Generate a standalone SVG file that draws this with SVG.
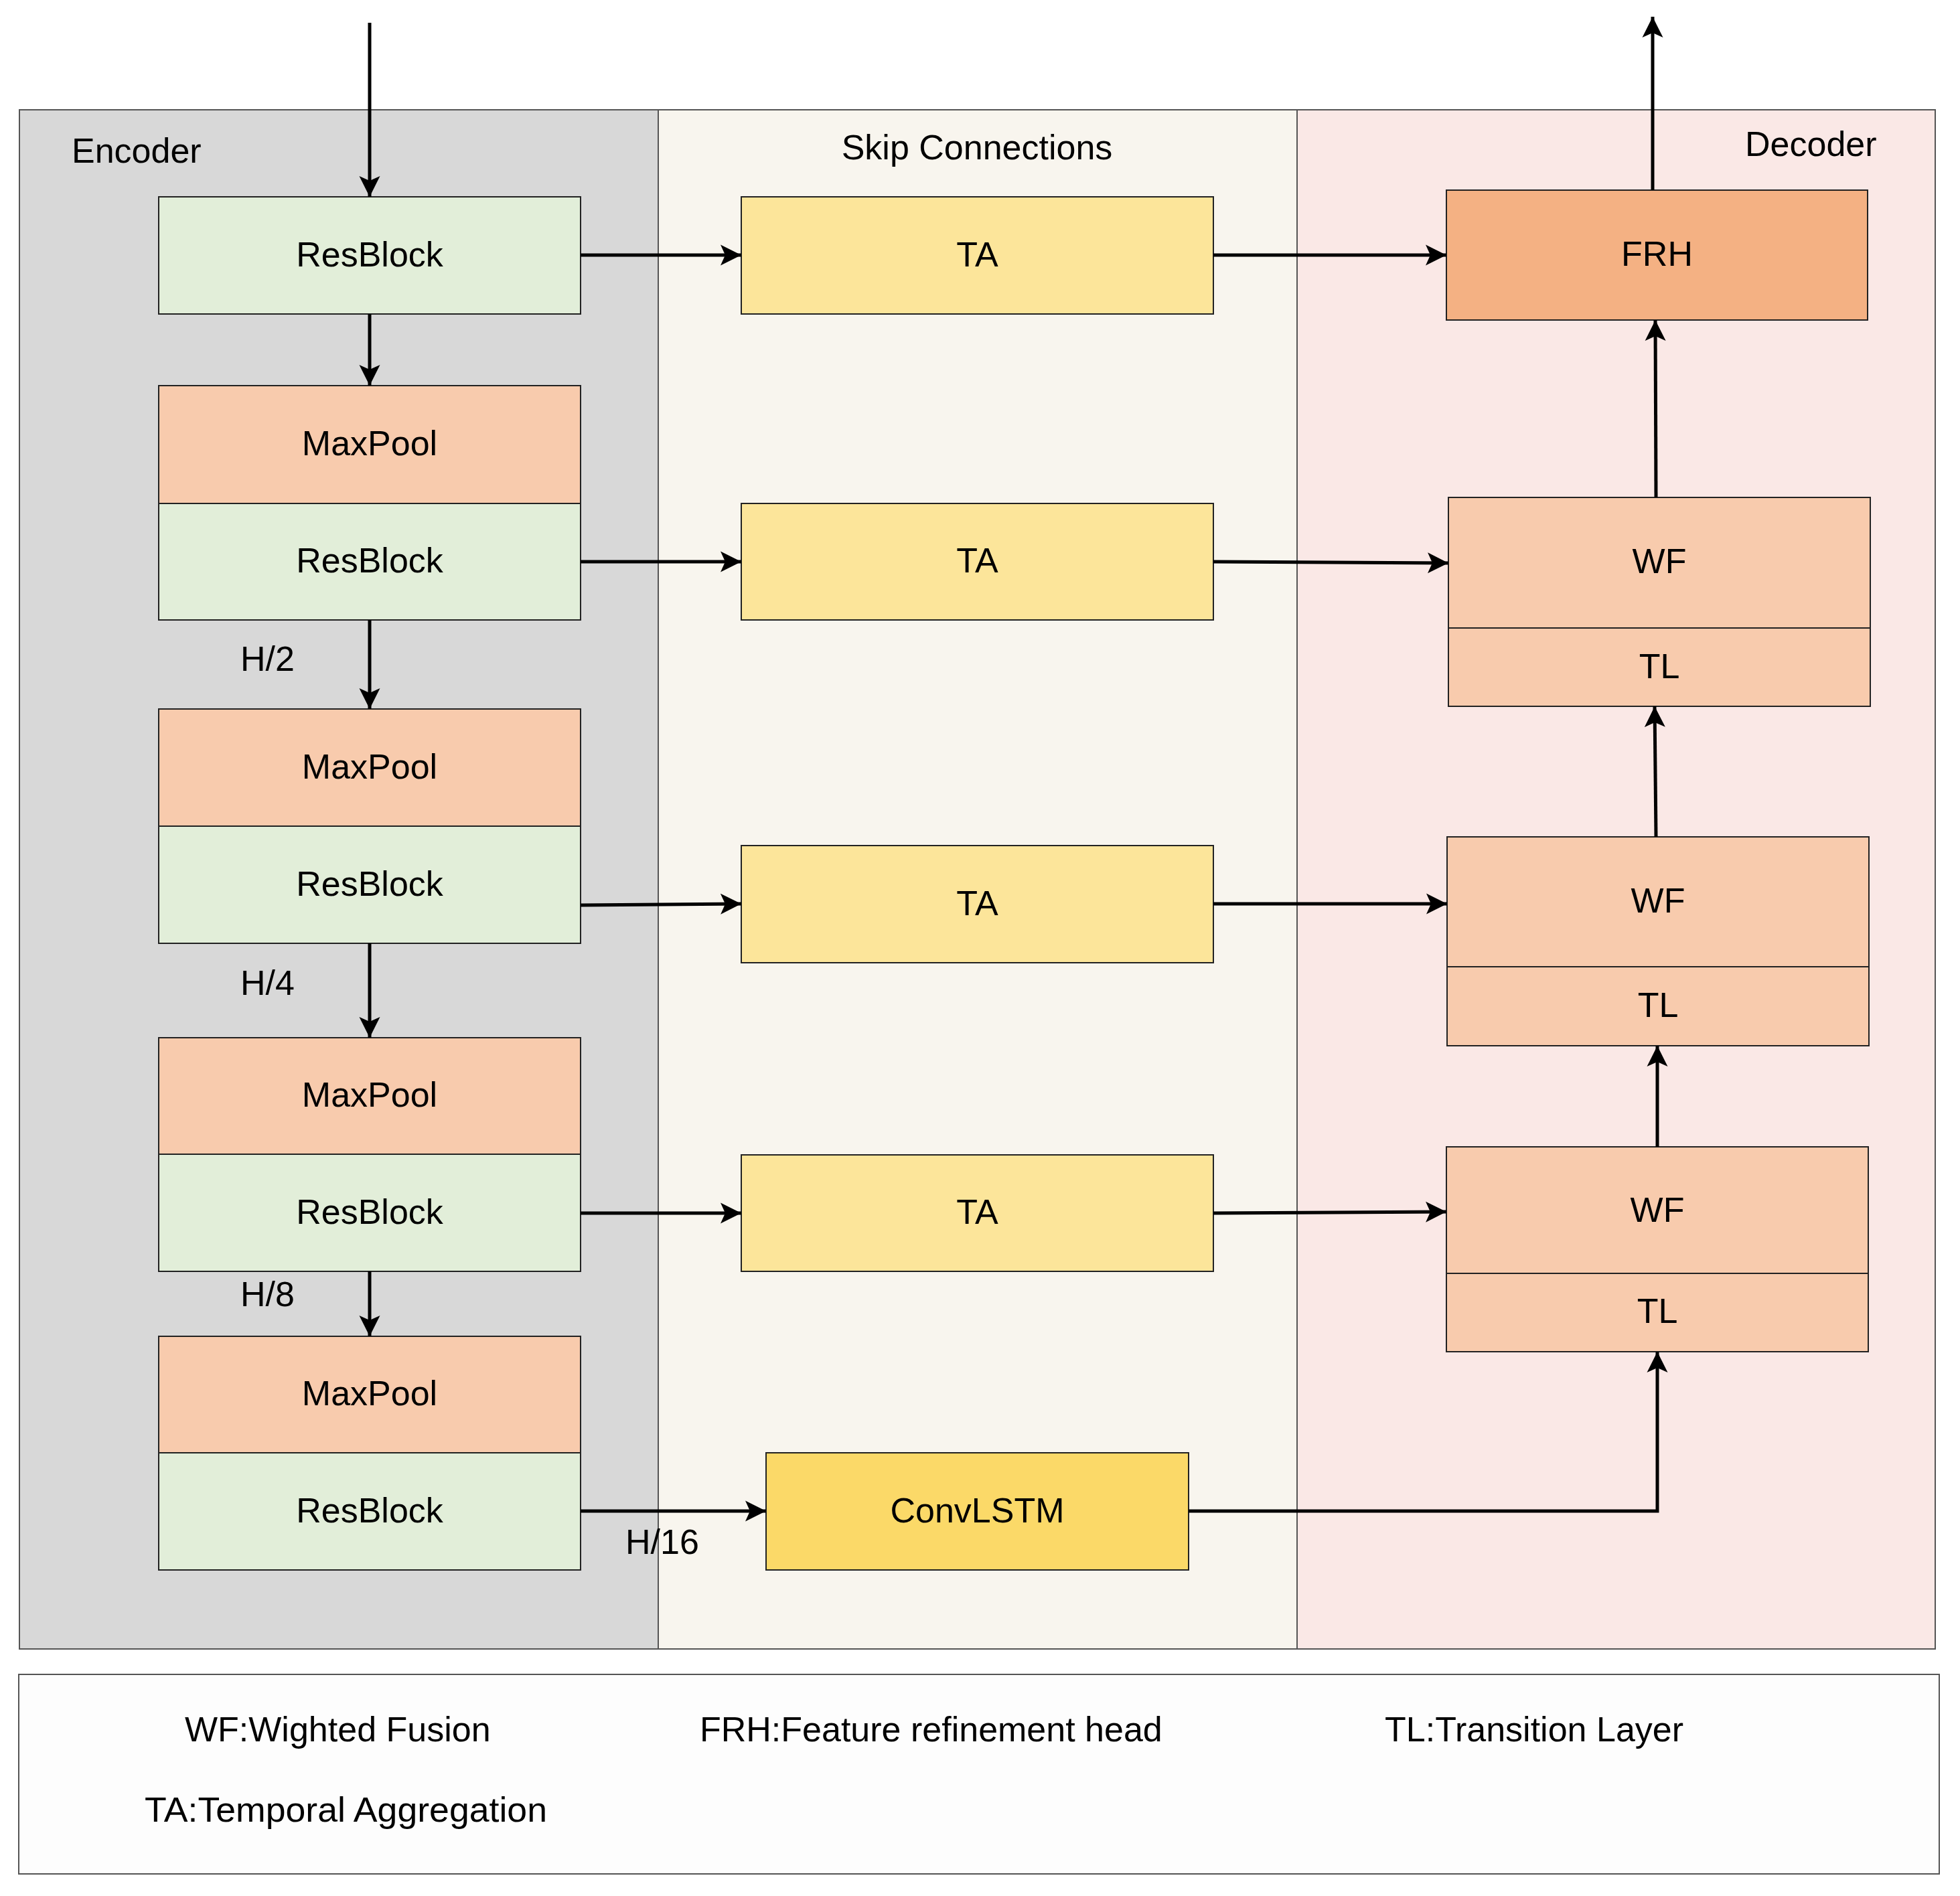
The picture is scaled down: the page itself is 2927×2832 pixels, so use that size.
<svg xmlns="http://www.w3.org/2000/svg" width="2927" height="2832" viewBox="0 0 2927 2832">
<style>
text{font-family:"Liberation Sans",Arial,sans-serif;font-size:52px;fill:#000}
.c{text-anchor:middle}
.box{stroke:#222;stroke-width:2}
.panel{stroke:#555;stroke-width:2}
.rb{fill:#e2eed9}
.mp{fill:#f8cbad}
.ta{fill:#fce59a}
.cl{fill:#fbd968}
.frh{fill:#f4b183}
.conn{fill:none;stroke:#000;stroke-width:5}
.arr{marker-end:url(#ah)}
</style>
<defs>
<marker id="ah" viewBox="0 0 32 32" refX="31" refY="16" markerWidth="32" markerHeight="32" markerUnits="userSpaceOnUse" orient="auto">
<path d="M31,16 L0,0.5 L7,16 L0,31.5 Z" fill="#000"/>
</marker>
</defs>
<rect width="2927" height="2832" fill="#fff"/>
<g id="panels">
<rect id="encoder-panel" class="panel" x="29" y="164" width="954" height="2299" fill="#d8d8d8"/>
<rect id="skip-panel" class="panel" x="983" y="164" width="954" height="2299" fill="#f8f5ee"/>
<rect id="decoder-panel" class="panel" x="1937" y="164" width="953" height="2299" fill="#fae8e6"/>
<text x="107" y="243">Encoder</text>
<text class="c" x="1459" y="238">Skip Connections</text>
<text x="2606" y="233">Decoder</text>
</g>
<g id="legend">
<rect x="28" y="2501" width="2868" height="298" fill="#fdfdfd" stroke="#555" stroke-width="2"/>
<text x="276" y="2601">WF:Wighted Fusion</text>
<text x="1045" y="2601">FRH:Feature refinement head</text>
<text x="2068" y="2601">TL:Transition Layer</text>
<text x="216" y="2721" textLength="601" lengthAdjust="spacingAndGlyphs">TA:Temporal Aggregation</text>
</g>
<g id="encoder">
<g id="resblock1"><rect class="box rb" x="237" y="294" width="630" height="175"/><text class="c" x="552" y="398">ResBlock</text></g>
<g id="maxpool1"><rect class="box mp" x="237" y="576" width="630" height="176"/><text class="c" x="552" y="680">MaxPool</text></g>
<g id="resblock2"><rect class="box rb" x="237" y="752" width="630" height="174"/><text class="c" x="552" y="855">ResBlock</text></g>
<g id="maxpool2"><rect class="box mp" x="237" y="1059" width="630" height="175"/><text class="c" x="552" y="1163">MaxPool</text></g>
<g id="resblock3"><rect class="box rb" x="237" y="1234" width="630" height="175"/><text class="c" x="552" y="1338">ResBlock</text></g>
<g id="maxpool3"><rect class="box mp" x="237" y="1550" width="630" height="174"/><text class="c" x="552" y="1653">MaxPool</text></g>
<g id="resblock4"><rect class="box rb" x="237" y="1724" width="630" height="175"/><text class="c" x="552" y="1828">ResBlock</text></g>
<g id="maxpool4"><rect class="box mp" x="237" y="1996" width="630" height="174"/><text class="c" x="552" y="2099">MaxPool</text></g>
<g id="resblock5"><rect class="box rb" x="237" y="2170" width="630" height="175"/><text class="c" x="552" y="2274">ResBlock</text></g>
</g>
<g id="skip">
<g id="ta1"><rect class="box ta" x="1107" y="294" width="705" height="175"/><text class="c" x="1459.5" y="398">TA</text></g>
<g id="ta2"><rect class="box ta" x="1107" y="752" width="705" height="174"/><text class="c" x="1459.5" y="855">TA</text></g>
<g id="ta3"><rect class="box ta" x="1107" y="1263" width="705" height="175"/><text class="c" x="1459.5" y="1367">TA</text></g>
<g id="ta4"><rect class="box ta" x="1107" y="1725" width="705" height="174"/><text class="c" x="1459.5" y="1828">TA</text></g>
<g id="convlstm"><rect class="box cl" x="1144" y="2170" width="631" height="175"/><text class="c" x="1459.5" y="2274">ConvLSTM</text></g>
</g>
<g id="decoder">
<g id="frh"><rect class="box frh" x="2160" y="284" width="629" height="194"/><text class="c" x="2474.5" y="397">FRH</text></g>
<g id="wf1"><rect class="box mp" x="2163" y="743" width="630" height="195"/><text class="c" x="2478" y="856">WF</text></g>
<g id="tl1"><rect class="box mp" x="2163" y="938" width="630" height="117"/><text class="c" x="2478" y="1013">TL</text></g>
<g id="wf2"><rect class="box mp" x="2161" y="1250" width="630" height="194"/><text class="c" x="2476" y="1363">WF</text></g>
<g id="tl2"><rect class="box mp" x="2161" y="1444" width="630" height="118"/><text class="c" x="2476" y="1519">TL</text></g>
<g id="wf3"><rect class="box mp" x="2160" y="1713" width="630" height="189"/><text class="c" x="2475" y="1825">WF</text></g>
<g id="tl3"><rect class="box mp" x="2160" y="1902" width="630" height="117"/><text class="c" x="2475" y="1976">TL</text></g>
</g>
<g id="labels">
<text x="359" y="1002">H/2</text>
<text x="359" y="1486">H/4</text>
<text x="359" y="1951">H/8</text>
<text x="934" y="2321">H/16</text>
</g>
<g id="connectors">
<path class="conn arr" d="M552,34 V294"/>
<path class="conn arr" d="M552,469 V576"/>
<path class="conn arr" d="M552,926 V1059"/>
<path class="conn arr" d="M552,1409 V1550"/>
<path class="conn arr" d="M552,1899 V1996"/>
<path class="conn arr" d="M867,381 H1107"/>
<path class="conn arr" d="M867,839 H1107"/>
<path class="conn arr" d="M867,1352 L1107,1350"/>
<path class="conn arr" d="M867,1812 H1107"/>
<path class="conn arr" d="M867,2257 H1144"/>
<path class="conn arr" d="M1812,381 H2160"/>
<path class="conn arr" d="M1812,839 L2163,841"/>
<path class="conn arr" d="M1812,1350 H2161"/>
<path class="conn arr" d="M1812,1812 L2160,1810"/>
<path class="conn arr" d="M1775,2257 H2475 V2019"/>
<path class="conn arr" d="M2475,1713 V1562"/>
<path class="conn arr" d="M2473,1250 L2471,1055"/>
<path class="conn arr" d="M2473,743 L2472,478"/>
<path class="conn arr" d="M2468,284 V25"/>
</g>
</svg>
